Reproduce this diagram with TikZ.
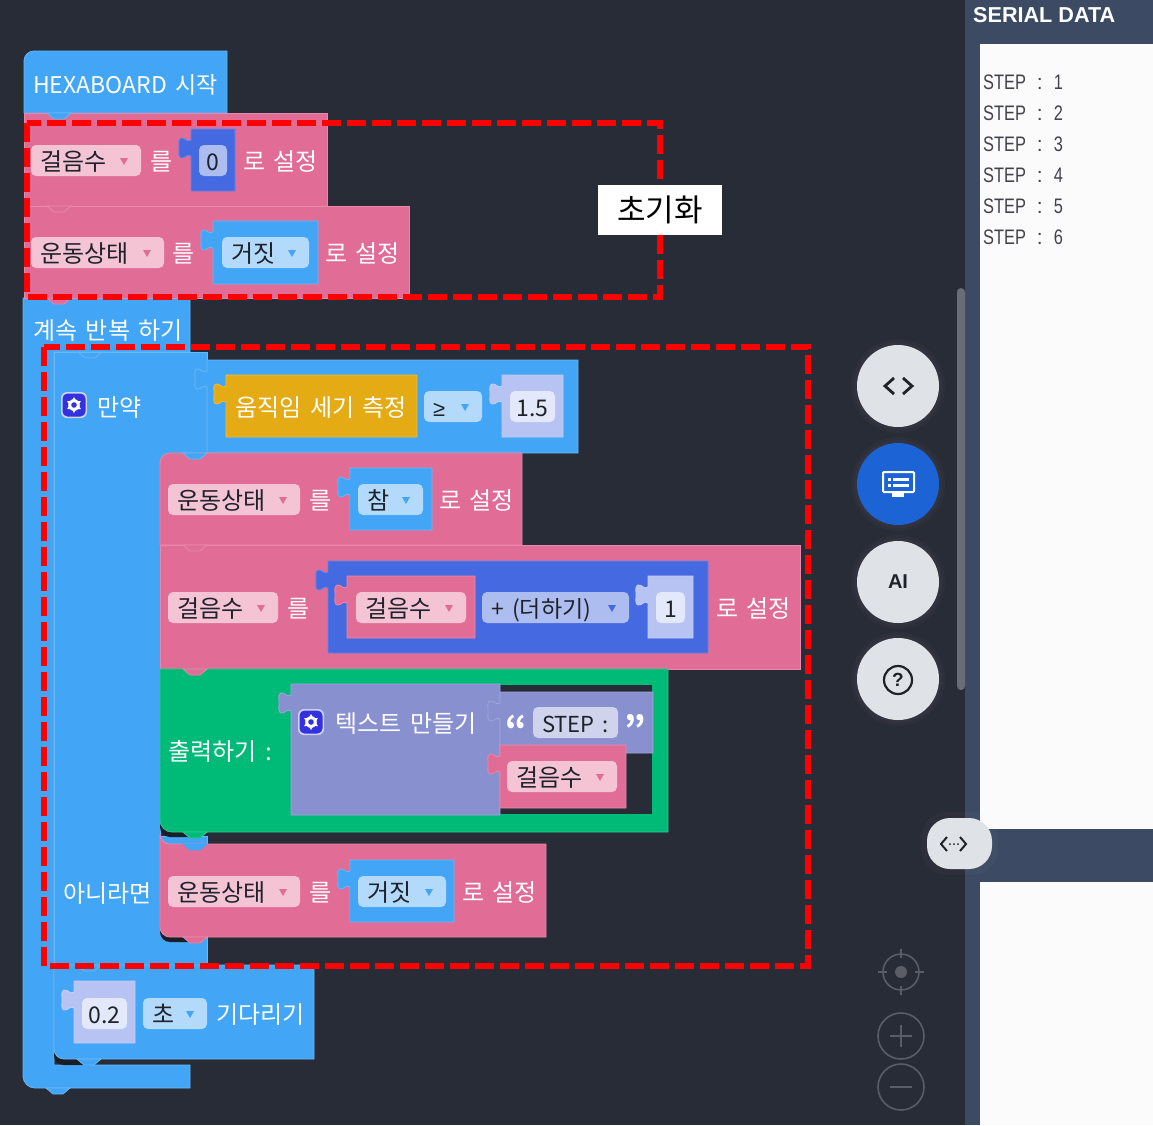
\documentclass[tikz,border=0pt]{standalone}
\usepackage{fontspec}
\usepackage{graphicx}
\setmainfont[WordSpace=1.6]{Noto Sans CJK KR}
\newfontfamily\uifont{Liberation Sans}
\newcommand{\blockfont}{\fontsize{24}{24}\selectfont}
\newcommand{\numsz}{\fontsize{23}{23}\selectfont}

\definecolor{bgcol}{HTML}{282C37}
\definecolor{shadecol}{HTML}{1C1E26}
\definecolor{panelcol}{HTML}{3C4A63}
\definecolor{sheetcol}{HTML}{FBFBFC}
\definecolor{bluecol}{HTML}{42A5F5}
\definecolor{pinkcol}{HTML}{E16C95}
\definecolor{royalcol}{HTML}{4469E0}
\definecolor{lavcol}{HTML}{B6C3F3}
\definecolor{goldcol}{HTML}{E5AB15}
\definecolor{greencol}{HTML}{00BA78}
\definecolor{purplecol}{HTML}{8890CF}
\definecolor{pinkfield}{HTML}{F4C4D5}
\definecolor{bluefield}{HTML}{B3DAFB}
\definecolor{royalfield}{HTML}{AEBDF0}
\definecolor{lavfield}{HTML}{E3E8FB}
\definecolor{purplefield}{HTML}{CFD3EC}
\definecolor{inkcol}{HTML}{20222A}
\definecolor{btncol}{HTML}{DFE2E7}
\definecolor{btnblue}{HTML}{1C63D5}
\definecolor{faintcol}{HTML}{5A5D66}
\definecolor{gearcol}{HTML}{3232E0}

\tikzset{
	lbl/.style={anchor=west, inner sep=0pt, text=white, font=\blockfont, text height=21pt, text depth=3pt},
	fldtxt/.style={lbl, text=inkcol},
	stmt/.style={fill=#1, draw=#1!80!white, line width=0.8pt},
	notch/.style={fill=#1, draw=#1!80!white, line width=0.8pt},
	redbox/.style={red, line width=6pt, dash pattern=on 19pt off 6pt},
	rowtxt/.style={anchor=west, inner sep=0pt, text=inkcol!85!white, font=\uifont\fontsize{21}{21}\selectfont},
	btn/.style={fill=btncol},
	glow/.style={fill=white, opacity=0.025},
	faint/.style={draw=faintcol, line width=1.6pt}
}

% block with the puzzle tab on its left side
\newcommand{\valblk}[5]{
	\draw[stmt=#5] (#1,#2) -- (#3,#2) -- (#3,#4) -- (#1,#4) -- (#1,#2+27)
		.. controls (#1-4,#2+24) and (#1-6,#2+30) .. (#1-10,#2+29)
		.. controls (#1-13,#2+28) and (#1-12,#2+24) .. (#1-12,#2+19)
		.. controls (#1-12,#2+14) and (#1-13,#2+10) .. (#1-10,#2+9)
		.. controls (#1-6,#2+8) and (#1-4,#2+14) .. (#1,#2+11) -- cycle;
}
% notch under a stacked block
\newcommand{\notchat}[3]{
	\draw[notch=#3] (#1-12,#2) -- (#1-5,#2+6) -- (#1+5,#2+6) -- (#1+12,#2) -- cycle;
}
% dropdown: name, x0, x1, y0, fill, arrow colour, text
\newcommand{\ddfield}[7]{
	\fill[#5, rounded corners=5pt] (#2,#4) rectangle (#3,#4+31);
	\fill[#6] (#3-21,#4+13) -- (#3-13,#4+13) -- (#3-17,#4+20) -- cycle;
	\node[fldtxt] (#1) at (#2+9,#4+16) {#7};
}
% plain value field: name, x0, x1, y0, fill, text
\newcommand{\valfield}[6]{
	\fill[#5, rounded corners=5pt] (#2,#4) rectangle (#3,#4+31);
	\node[fldtxt, anchor=center] (#1) at ({(#2+#3)/2},#4+16) {\numsz #6};
}
\newcommand{\gearicon}[2]{
	\fill[purplefield, rounded corners=6pt] (#1-13,#2-13) rectangle (#1+13,#2+13);
	\fill[gearcol, rounded corners=5pt] (#1-11.5,#2-11.5) rectangle (#1+11.5,#2+11.5);
	\fill[white] (#1,#2-8) -- (#1+6.9,#2+4) -- (#1-6.9,#2+4) -- cycle;
	\fill[white] (#1,#2+8) -- (#1+6.9,#2-4) -- (#1-6.9,#2-4) -- cycle;
	\fill[white] (#1,#2) circle[radius=5.8];
	\fill[gearcol] (#1,#2) circle[radius=2.8];
}
\newcommand{\steprow}[3]{
	\node[rowtxt] (#1) at (983,#2) {\scalebox{.78}[1]{STEP}\hspace{11pt}:\hspace{11pt}\scalebox{.78}[1]{#3}};
}

\begin{document}
\begin{tikzpicture}[x=1pt, y=-1pt]
	\useasboundingbox (0,0) rectangle (1153,1125);
	\fill[bgcol] (0,0) rectangle (1153,1125);

	% serial panel
	\fill[panelcol] (965,0) rectangle (1153,1125);
	\fill[sheetcol] (980,44) rectangle (1153,829);
	\fill[sheetcol] (980,882) rectangle (1153,1125);
	\node[anchor=west, inner sep=0pt, text=white, font=\uifont\bfseries\fontsize{21.6}{22}\selectfont] (serialtitle) at (973,15) {SERIAL DATA};
	\steprow{row1}{82}{1}
	\steprow{row2}{113}{2}
	\steprow{row3}{144}{3}
	\steprow{row4}{175}{4}
	\steprow{row5}{206}{5}
	\steprow{row6}{237}{6}

	% scrollbar
	\fill[faintcol!90!white, rounded corners=4pt] (957,288) -- (965,288) -- (965,690) -- (957,690) -- cycle;

	% round buttons
	\fill[glow] (898,386) circle[radius=47];
	\fill[glow] (898,386) circle[radius=44];
	\fill[glow] (898,484) circle[radius=47];
	\fill[glow] (898,484) circle[radius=44];
	\fill[glow] (898,582) circle[radius=47];
	\fill[glow] (898,582) circle[radius=44];
	\fill[glow] (898,679) circle[radius=47];
	\fill[glow] (898,679) circle[radius=44];
	\fill[btn] (898,386) circle[radius=41];
	\fill[btnblue] (898,484) circle[radius=41];
	\fill[btn] (898,582) circle[radius=41];
	\fill[btn] (898,679) circle[radius=41];
	\draw[inkcol, line width=2.8pt] (894,378) -- (885,386) -- (894,394);
	\draw[inkcol, line width=2.8pt] (903,378) -- (912,386) -- (903,394);
	\draw[white, line width=2pt, rounded corners=1pt] (883,472) rectangle (914,492);
	\fill[white] (892,493) rectangle (904,497);
	\fill[white] (888,478) rectangle (891,481);
	\fill[white] (893,478) rectangle (909,481);
	\fill[white] (888,484) rectangle (891,487);
	\fill[white] (893,484) rectangle (909,487);
	\node[inner sep=0pt, text=inkcol, font=\uifont\bfseries\fontsize{20}{20}\selectfont] (aitxt) at (898,582) {AI};
	\draw[inkcol, line width=2.2pt] (898,680) circle[radius=14];
	\node[inner sep=0pt, text=inkcol, font=\uifont\bfseries\fontsize{19}{19}\selectfont] (helptxt) at (898,680) {?};

	% split handle
	\fill[glow, rounded corners=26pt] (921,812) rectangle (998,875);
	\fill[btn, rounded corners=23pt] (927,818) rectangle (992,869);
	\draw[inkcol, line width=2pt] (947,837) -- (941,844) -- (947,851);
	\draw[inkcol, line width=2pt] (960,837) -- (966,844) -- (960,851);
	\fill[inkcol] (950,844) circle[radius=1];
	\fill[inkcol] (954,844) circle[radius=1];
	\fill[inkcol] (958,844) circle[radius=1];

	% zoom controls
	\draw[faint] (901,972) circle[radius=18];
	\fill[faintcol] (901,972) circle[radius=6];
	\draw[faint] (901,949) -- (901,958);
	\draw[faint] (901,986) -- (901,995);
	\draw[faint] (878,972) -- (887,972);
	\draw[faint] (915,972) -- (924,972);
	\draw[faint] (901,1036) circle[radius=23];
	\draw[faint] (901,1025) -- (901,1047);
	\draw[faint] (890,1036) -- (912,1036);
	\draw[faint] (901,1087) circle[radius=23];
	\draw[faint] (890,1087) -- (912,1087);

	% loop body
	\draw[stmt=bluecol] (190,298) -- (190,352) -- (54,352) -- (54,1065) -- (190,1065) -- (190,1088)
		[rounded corners=12pt] -- (23,1088) [sharp corners] -- (23,298) -- cycle;
	\node[lbl] (looptxt) at (33,330) {계속 반복 하기};
	\notchat{58}{1088}{bluecol}

	% start block
	\draw[stmt=bluecol] (24,113) [rounded corners=10pt] -- (24,51) [sharp corners] -- (227,51) -- (227,113) -- cycle;
	\node[lbl] (hattxt) at (33,84) {\fontsize{23}{23}\selectfont HEXABOARD 시작};

	% init blocks
	\draw[stmt=pinkcol] (24,206) rectangle (409,298);
	\draw[stmt=pinkcol] (24,113) rectangle (327,206);
	\notchat{59}{113}{bluecol}
	\notchat{59}{206}{pinkcol}
	\notchat{59}{298}{pinkcol}
	\ddfield{initstep}{31}{141}{145}{pinkfield}{pinkcol}{걸음수}
	\node[lbl] (initstepa) at (150,161) {를};
	\valblk{191}{129}{235}{191}{royalcol}
	\valfield{initzero}{199}{227}{145}{royalfield}{0}
	\node[lbl] (initstepb) at (243,161) {로 설정};
	\ddfield{initmove}{31}{164}{237}{pinkfield}{pinkcol}{운동상태}
	\node[lbl] (initmovea) at (172,253) {를};
	\valblk{213}{221}{318}{284}{bluecol}
	\ddfield{initfalse}{222}{309}{237}{bluefield}{bluecol}{거짓}
	\node[lbl] (initmoveb) at (325,253) {로 설정};

	% if block
	\draw[stmt=bluecol] (54,352) -- (207,352) -- (207,453) -- (160,453) -- (160,836) -- (207,836) -- (207,965) -- (54,965) -- cycle;
	\fill[bluecol] (160,453) rectangle (172,465);
	\draw[bluecol!80!white, line width=0.8pt] (78,352) -- (85,358) -- (95,358) -- (102,352);
	\gearicon{74}{405}
	\node[lbl] (iftxt) at (97,407) {만약};
	\node[lbl] (elsetxt) at (63,893) {아니라면};
	\valblk{207}{360}{578}{453}{bluecol}
	\valblk{226}{375}{417}{437}{goldcol}
	\node[lbl] (gaugetxt) at (235,407) {움직임 세기 측정};
	\ddfield{cmpop}{424}{482}{391}{bluefield}{bluecol}{\uifont\fontsize{22}{22}\selectfont ≥}
	\valblk{502}{375}{563}{437}{lavcol}
	\valfield{cmpval}{510}{555}{391}{lavfield}{1.5}

	% set moving true
	\draw[stmt=pinkcol] (160,545) rectangle (800,669);
	\draw[stmt=pinkcol] (160,545) [rounded corners=10pt] -- (160,453) [sharp corners] -- (522,453) -- (522,545) -- cycle;
	\notchat{195}{453}{bluecol}
	\ddfield{truemove}{168}{300}{484}{pinkfield}{pinkcol}{운동상태}
	\node[lbl] (truemovea) at (309,500) {를};
	\valblk{350}{468}{432}{530}{bluecol}
	\ddfield{truefield}{358}{423}{484}{bluefield}{bluecol}{참}
	\node[lbl] (truemoveb) at (439,500) {로 설정};

	% add one
	\notchat{195}{545}{pinkcol}
	\ddfield{addstep}{168}{278}{592}{pinkfield}{pinkcol}{걸음수}
	\node[lbl] (addstepa) at (287,608) {를};
	\valblk{328}{561}{708}{653}{royalcol}
	\valblk{347}{576}{475}{638}{pinkcol}
	\ddfield{addvar}{356}{466}{592}{pinkfield}{pinkcol}{걸음수}
	\ddfield{addop}{482}{629}{592}{royalfield}{royalcol}{\numsz + (더하기)}
	\valblk{648}{576}{693}{638}{lavcol}
	\valfield{addone}{656}{685}{592}{lavfield}{1}
	\node[lbl] (addstepb) at (716,608) {로 설정};

	% print block
	\fill[shadecol, rounded corners=10pt] (160,810) rectangle (207,837);
	\draw[stmt=greencol] (668,669) -- (668,832) [rounded corners=12pt] -- (160,832) [sharp corners] -- (160,669) -- cycle;
	\fill[bgcol] (500,685) rectangle (652,814);
	\notchat{195}{669}{pinkcol}
	\notchat{195}{832}{greencol}
	\node[lbl] (printtxt) at (168,751) {출력하기 :};
	\valblk{291}{684}{500}{815}{purplecol}
	\gearicon{311}{722}
	\node[lbl] (jointxt) at (335,723) {텍스트 만들기};
	\valblk{500}{692}{653}{753}{purplecol}
	\node[inner sep=0pt, text=white, font=\fontsize{34}{34}\selectfont\bfseries] (quotel) at (516,728) {“};
	\valfield{steptxt}{533}{618}{707}{purplefield}{\fontsize{22}{22}\selectfont STEP :}
	\node[inner sep=0pt, text=white, font=\fontsize{34}{34}\selectfont\bfseries] (quoter) at (635,728) {”};
	\valblk{500}{745}{626}{808}{pinkcol}
	\ddfield{printvar}{507}{617}{761}{pinkfield}{pinkcol}{걸음수}

	% else branch
	\fill[shadecol, rounded corners=10pt] (160,920) rectangle (207,942);
	\draw[stmt=pinkcol] (160,844) [rounded corners=10pt] -- (160,937) [sharp corners] -- (546,937) -- (546,844) [rounded corners=10pt] -- (160,844) [sharp corners] -- cycle;
	\notchat{195}{937}{pinkcol}
	\draw[bluecol, line width=0.8pt, fill=bluecol] (183,844) -- (190,850) -- (200,850) -- (207,844) -- cycle;
	\ddfield{elsemove}{168}{300}{876}{pinkfield}{pinkcol}{운동상태}
	\node[lbl] (elsemovea) at (309,892) {를};
	\valblk{350}{860}{454}{922}{bluecol}
	\ddfield{elsefalse}{358}{446}{876}{bluefield}{bluecol}{거짓}
	\node[lbl] (elsemoveb) at (462,892) {로 설정};

	% wait block
	\fill[shadecol, rounded corners=10pt] (54,1040) rectangle (100,1065);
	\draw[stmt=bluecol] (54,965) [rounded corners=10pt] -- (54,1059) [sharp corners] -- (314,1059) -- (314,965) -- cycle;
	\notchat{89}{965}{bluecol}
	\notchat{89}{1059}{bluecol}
	\valblk{74}{981}{135}{1043}{lavcol}
	\valfield{waitval}{82}{127}{998}{lavfield}{0.2}
	\ddfield{waitunit}{143}{207}{998}{bluefield}{bluecol}{초}
	\node[lbl] (waittxt) at (216,1014) {기다리기};

	% marked regions
	\draw[redbox] (27,123) rectangle (660,297);
	\draw[redbox] (44,347) rectangle (808,966);
	\node[fill=white, minimum width=124pt, minimum height=50pt, inner sep=0pt, text=black, font=\fontsize{31}{31}\selectfont] (initlabel) at (660,210) {초기화};
\end{tikzpicture}
\end{document}
